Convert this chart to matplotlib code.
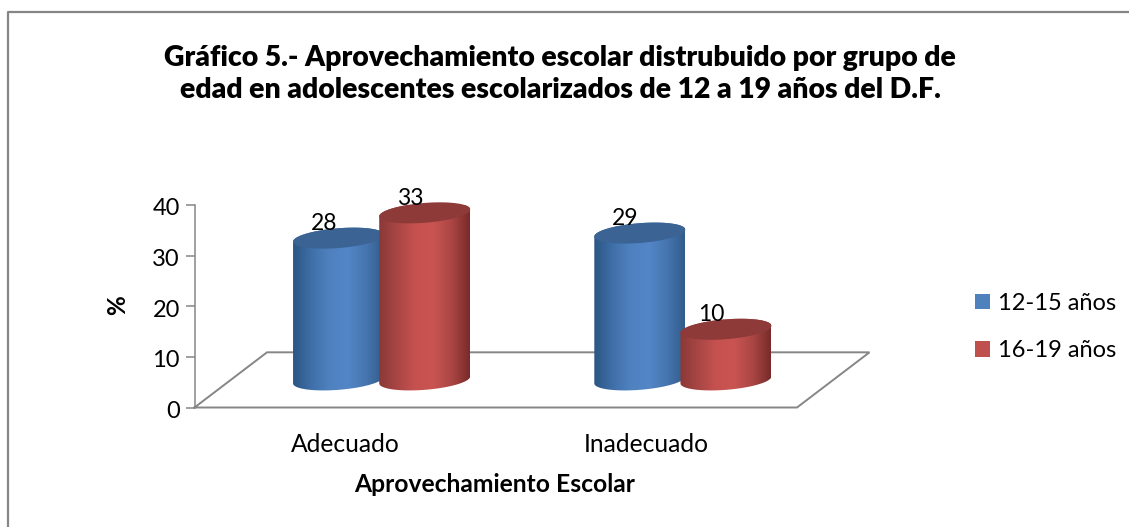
import numpy as np
import matplotlib
matplotlib.use('Agg')
import matplotlib.pyplot as plt
from matplotlib.colors import LinearSegmentedColormap
from matplotlib.lines import Line2D
from matplotlib.patches import Patch, PathPatch, Polygon
from matplotlib.path import Path
from matplotlib.transforms import ScaledTranslation

plt.rcParams['font.family'] = ['Lato', 'DejaVu Sans']

# Datos
categorias = ['Adecuado', 'Inadecuado']
serie_1215 = [28, 29]
serie_1619 = [33, 10]
nombres = ['12-15 años', '16-19 años']
titulo = ('Gráfico 5.- Aprovechamiento escolar distrubuido por grupo de\n'
          'edad en adolescentes escolarizados de 12 a 19 años del D.F.')

W, H = 1129, 527
GRIS = '#868686'
TEXTO = '#000000'

fig = plt.figure(figsize=(W / 100, H / 100), dpi=100, facecolor='white')

# Ejes colocados en pixeles: 0 en y=407.5, 40 en y=205
ax_left, ax_right = 194.5, 870
ax = fig.add_axes([ax_left / W, (H - 407.5) / H, (ax_right - ax_left) / W, 202.5 / H])
ax.set_ylim(0, 40)
px_cat = 301.25  # pixeles por categoria
x0 = -0.5 - (231 - ax_left) / px_cat
ax.set_xlim(x0, x0 + (ax_right - ax_left) / px_cat)

# Profundidad del piso (perspectiva)
fondo_y = 10.9
fondo_x = 72.5 / px_cat
base_y = fondo_y / 2
front_l = x0
back_l = x0 + fondo_x
ax.plot([front_l, back_l, back_l + 2, front_l + 2, front_l],
        [0, fondo_y, fondo_y, 0, 0], color=GRIS, lw=1.4, clip_on=False, zorder=1,
        solid_joinstyle='miter')


def cilindro(cx, valor, colores, tapa, z):
    a = 0.151   # medio ancho
    b = 1.96    # medio alto de la elipse
    k = 0.69    # inclinacion de la elipse
    t = np.linspace(0, 2 * np.pi, 121)
    arriba = base_y + valor
    ex = a * np.cos(t)
    ey = b * np.sin(t) + k * np.cos(t)
    # contorno: mitad de abajo de la base + mitad de arriba de la tapa
    t1 = np.linspace(np.pi, 2 * np.pi, 60)
    t2 = np.linspace(0, np.pi, 60)
    xs = np.r_[cx + a * np.cos(t1), cx + a * np.cos(t2)]
    ys = np.r_[base_y + b * np.sin(t1) + k * np.cos(t1),
               arriba + b * np.sin(t2) + k * np.cos(t2)]
    cuerpo = Polygon(np.c_[xs, ys], closed=True, fc='none', ec='none', zorder=z)
    ax.add_patch(cuerpo)
    cmap = LinearSegmentedColormap.from_list('c', colores)
    grad = np.linspace(0, 1, 256)[None, :]
    im = ax.imshow(grad, cmap=cmap, aspect='auto', zorder=z, interpolation='bilinear',
                   extent=(cx - a, cx + a, base_y - 3, arriba + 3))
    im.set_clip_path(cuerpo)
    verts = np.c_[cx + ex, arriba + ey]
    ax.add_patch(PathPatch(Path(verts), fc=tapa, ec='none', zorder=z + 0.1, clip_on=False))
    # etiqueta del valor, corrida a la izquierda como en el original
    ax.annotate(str(valor), (cx, arriba), xytext=(-10.5, 10.5), textcoords='offset points',
                ha='center', va='center', fontsize=16.5, color=TEXTO, zorder=z + 1)


AZUL = ['#2b5583', '#3f6fa8', '#4f81c0', '#5386c7', '#4676b0', '#325c8c']
ROJO = ['#8a3937', '#a84644', '#c65250', '#c95452', '#aa4644', '#782b29']
offset = 0.143
z = 2
for i in range(len(categorias)):
    cilindro(i - offset, serie_1215[i], AZUL, '#3b6494', z)
    cilindro(i + offset, serie_1619[i], ROJO, '#8e3a38', z + 2)
    z += 4

ax.set_xlim(x0, x0 + (ax_right - ax_left) / px_cat)
ax.set_ylim(0, 40)

# Ejes y rotulos
for lado in ['top', 'right', 'bottom']:
    ax.spines[lado].set_visible(False)
ax.spines['left'].set_color(GRIS)
ax.spines['left'].set_linewidth(1.1)
ax.patch.set_visible(False)
ax.set_yticks([0, 10, 20, 30, 40])
ax.tick_params(axis='y', length=6.5, width=1.1, color=GRIS, labelsize=17, pad=4, labelcolor=TEXTO)
bajar = ScaledTranslation(0, -2 / 100, fig.dpi_scale_trans)
for lab in ax.get_yticklabels():
    lab.set_transform(lab.get_transform() + bajar)
ax.set_xticks(np.arange(len(categorias)) - fondo_x / 2)
ax.set_xticklabels(categorias, fontsize=17.7)
ax.tick_params(axis='x', length=0, pad=18.5, labelcolor=TEXTO)

fig.text(118 / W, 1 - 305 / H, '%', rotation=90, ha='center', va='center',
         fontsize=17.5, fontweight='bold', color=TEXTO)
fig.text(494.5 / W, 1 - 484.5 / H, 'Aprovechamiento Escolar', ha='center', va='center',
         fontsize=17.7, fontweight='bold', color=TEXTO)
fig.text(560 / W, 1 - 74 / H, titulo, ha='center', va='center', fontsize=20.4,
         fontweight='heavy', color=TEXTO, linespacing=1.33)

# Leyenda
handles = [Patch(fc='#4f81bd', ec='none', label=nombres[0]),
           Patch(fc='#c0504d', ec='none', label=nombres[1])]
fig.legend(handles=handles, loc='center left', bbox_to_anchor=(975 / W, 1 - 327 / H),
           frameon=False, fontsize=17, handlelength=0.64, handleheight=0.64,
           handletextpad=0.34, labelspacing=1.12, borderpad=0, borderaxespad=0)

# Marco (recortado a la derecha y abajo)
fig.add_artist(Line2D([7.5 / W, 7.5 / W, 1], [0, 1 - 11.5 / H, 1 - 11.5 / H],
                      color=GRIS, lw=1.6, transform=fig.transFigure))

fig.savefig('out.png', dpi=100)
